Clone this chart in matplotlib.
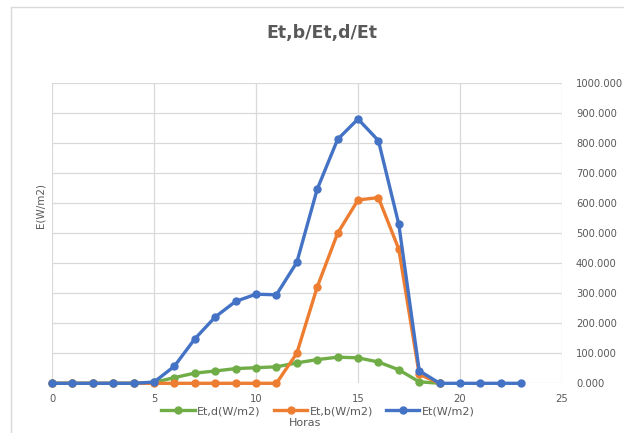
import matplotlib
matplotlib.use("Agg")
import matplotlib.pyplot as plt
from matplotlib.patches import Rectangle
from matplotlib.ticker import FormatStrFormatter, MultipleLocator

hours_t = list(range(24))
et = [0, 0, 0, 0, 0, 4, 57, 148, 221, 273, 297, 295, 403, 647, 813, 881, 809, 530, 42, 0, 0, 0, 0, 0]
hours_bd = list(range(20))
etb = [0, 0, 0, 0, 0, 0, 0, 0, 0, 0, 0, 0, 100, 321, 500, 611, 619, 447, 30, 0]
etd = [0, 0, 0, 0, 0, 3, 19, 34, 41, 49, 52, 55, 68, 79, 87, 85, 71, 45, 5, 0]

title = "Et,b/Et,d/Et"
labels = ["Et,d(W/m2)", "Et,b(W/m2)", "Et(W/m2)"]
colors = ["#70AD47", "#ED7D31", "#4472C4"]
gray = "#595959"

fig = plt.figure(figsize=(6.24, 4.33), dpi=100)
fig.patch.set_facecolor("white")
fig.patches.append(Rectangle((11/624, -0.2), 1.5, 1.2 - 7/433, transform=fig.transFigure,
                             fill=False, edgecolor="#D9D9D9", linewidth=1.0))

ax = fig.add_axes([52/624, 1 - 383.3/433, (562 - 52)/624, (383.3 - 83.3)/433])
ax.set_xlim(0, 25)
ax.set_ylim(0, 1000)
ax.xaxis.set_major_locator(MultipleLocator(5))
ax.yaxis.set_major_locator(MultipleLocator(100))
ax.yaxis.tick_right()
ax.yaxis.set_major_formatter(FormatStrFormatter("%.3f"))
ax.grid(True, color="#D9D9D9", linewidth=0.9)
ax.set_axisbelow(True)
for s in ax.spines.values():
    s.set_visible(False)
ax.tick_params(length=0, colors=gray, labelsize=7.2)
ax.tick_params(axis="x", pad=8)
ax.tick_params(axis="y", pad=10)

series = [(hours_bd, etd), (hours_bd, etb), (hours_t, et)]
lines = []
for (x, y), lab, c in zip(series, labels, colors):
    ln, = ax.plot(x, y, color=c, marker="o", markersize=5, linewidth=2.4, label=lab, clip_on=False)
    lines.append(ln)

fig.text(0.516, 1 - 33/433, title, ha="center", va="center", fontsize=12.5, fontweight="bold", color=gray)
fig.text(40/624, 1 - 205/433, "E(W/m2)", rotation=90, ha="center", va="center", fontsize=7.5, color=gray)
fig.text(305/624, 1 - 423/433, "Horas", ha="center", va="center", fontsize=8, color=gray)

leg = fig.legend(lines, labels, loc="center", bbox_to_anchor=(318/624, 1 - 411/433), ncol=3,
                 frameon=False, fontsize=8, handlelength=3, columnspacing=1.2, handletextpad=0.2,
                 labelcolor=gray)

fig.savefig("out.png", dpi=100, facecolor="white")
